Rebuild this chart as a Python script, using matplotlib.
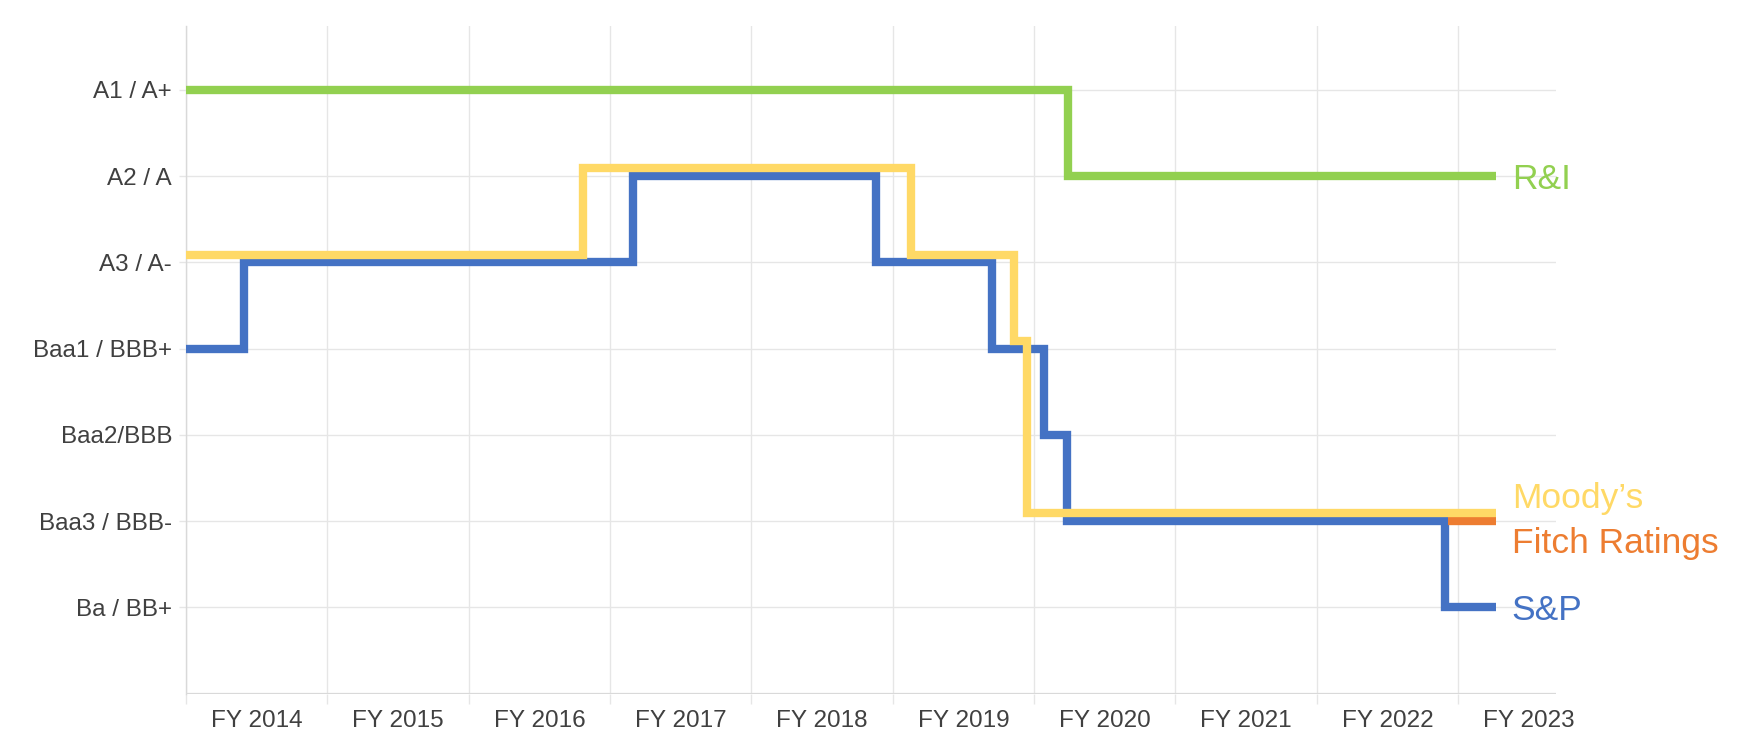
import matplotlib
matplotlib.use("Agg")
import matplotlib.pyplot as plt
from matplotlib.ticker import FixedLocator, NullFormatter, FixedFormatter

# ── Data (x in fiscal-year units: 0 = start of FY 2014) ──────────
rating_labels = ["Ba / BB+", "Baa3 / BBB-", "Baa2/BBB", "Baa1 / BBB+",
                 "A3 / A-", "A2 / A", "A1 / A+"]
rating_levels = [1, 2, 3, 4, 5, 6, 7]
fiscal_years = ["FY 2014", "FY 2015", "FY 2016", "FY 2017", "FY 2018",
                "FY 2019", "FY 2020", "FY 2021", "FY 2022", "FY 2023"]

ri_x = [0, 6.24, 9.27]
ri_y = [7, 6, 6]

moodys_x = [0, 2.81, 5.13, 5.86, 5.95, 9.27]
moodys_y = [5, 6, 5, 4, 2, 2]

sp_x = [0, 0.41, 3.16, 4.88, 5.70, 6.07, 6.23, 8.91, 9.27]
sp_y = [4, 5, 6, 5, 4, 3, 2, 1, 1]

fitch_x = [8.93, 9.27]
fitch_y = [2, 2]

# ── Style ────────────────────────────────────────────────────────
_GREEN  = "#92D050"
_YELLOW = "#FFD966"
_BLUE   = "#4472C4"
_ORANGE = "#ED7D31"
_GRID   = "#E6E6E6"
_TEXT   = "#404040"
MOODYS_SHIFT = 0.09   # drawn slightly above so it does not hide S&P
LW = 6.0

plt.rcParams["font.family"] = ["Liberation Sans", "DejaVu Sans"]

fig = plt.figure(figsize=(17.59, 7.5), dpi=100, facecolor="white")
ax = fig.add_axes([0.1057, 0.0753, 0.7787, 0.89])

line_kw = dict(where="post", lw=LW, solid_joinstyle="miter",
               solid_capstyle="butt")
ax.step(ri_x, ri_y, color=_GREEN, zorder=3, **line_kw)
ax.step(sp_x, sp_y, color=_BLUE, zorder=4, **line_kw)
ax.step(fitch_x, fitch_y, color=_ORANGE, zorder=4, **line_kw)
ax.step(moodys_x, [v + MOODYS_SHIFT for v in moodys_y], color=_YELLOW,
        zorder=5, **line_kw)

# series labels at the right end
lx = ri_x[-1] + 0.11
lab_kw = dict(fontsize=25.5, ha="left", va="center_baseline")
ax.text(lx, ri_y[-1], "R&I", color=_GREEN, **lab_kw)
ax.text(lx, moodys_y[-1] + 0.30, "Moody\u2019s", color=_YELLOW, **lab_kw)
ax.text(lx, fitch_y[-1] - 0.22, "Fitch Ratings", color=_ORANGE, **lab_kw)
ax.text(lx, sp_y[-1], "S&P", color=_BLUE, **lab_kw)

ax.set_xlim(0, 9.69)
ax.set_ylim(0, 7.74)

# axes / grid
for side in ["top", "right", "bottom"]:
    ax.spines[side].set_visible(False)
ax.spines["left"].set_color("#D9D9D9")
ax.spines["left"].set_linewidth(1.0)

ax.xaxis.set_major_locator(FixedLocator(range(10)))
ax.xaxis.set_major_formatter(NullFormatter())
ax.xaxis.set_minor_locator(FixedLocator([i + 0.5 for i in range(10)]))
ax.xaxis.set_minor_formatter(FixedFormatter(fiscal_years))
ax.tick_params(axis="x", which="major", length=7, color=_GRID, width=1)
ax.tick_params(axis="x", which="minor", length=0, pad=12,
               labelsize=17.5, labelcolor=_TEXT)

ax.set_yticks(rating_levels)
ax.set_yticklabels(rating_labels)
ax.tick_params(axis="y", length=5, color=_GRID, width=1, pad=5,
               labelsize=17.5, labelcolor=_TEXT)

ax.grid(True, which="major", color=_GRID, lw=1.0, zorder=0)
ax.axhline(0, color="#D9D9D9", lw=1.6, zorder=1)
ax.set_axisbelow(True)

fig.savefig("out.png", dpi=100, facecolor="white")
